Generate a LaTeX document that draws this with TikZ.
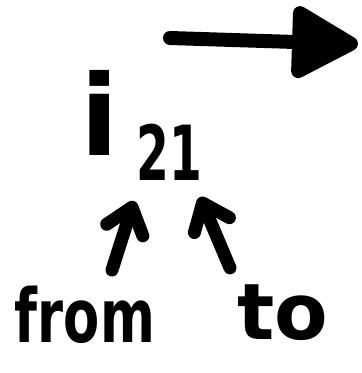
\documentclass[tikz,border=0pt]{standalone}
\usepackage{fontspec}
\usepackage{graphicx}
\setmainfont{DejaVu Sans}
\usetikzlibrary{arrows.meta}
\begin{document}
\begin{tikzpicture}[x=1pt,y=-1pt,
  ink/.style={line width=13pt,line cap=round,line join=round,black},
  barb/.style={ink,-{Straight Barb[length=24pt,width=38pt,round]}},
  bigtip/.style={line width=14pt,line cap=round,-{Triangle[length=74pt,width=78pt,round]}},
  word/.style={inner sep=0pt,font=\bfseries},
  label/.style={inner sep=0pt,font=\bfseries}]
\useasboundingbox (0,0) rectangle (362,373);
\coordinate (as) at (170,38);
\coordinate (ae) at (358,44);
\draw[bigtip] (as) -- (ae);
\node[label,anchor=base west] (i21) at (80,155)
  {\fontsize{112}{112}\selectfont i\hspace{18pt}\raisebox{-25pt}{\scalebox{0.62}[1]{\fontsize{76}{76}\selectfont 21}}};
\node[word] (from) at (85,315) {\scalebox{0.85}[1.2]{\fontsize{62}{62}\selectfont from}};
\node[word] (to) at (283,313) {\fontsize{78}{78}\selectfont to};
\coordinate (t1) at (134,201);
\coordinate (t2) at (200,197);
\draw[barb] ([xshift=27pt,yshift=16pt]from.north) -- (t1);
\draw[barb] ([xshift=-53pt,yshift=17pt]to.north) -- (t2);
\end{tikzpicture}
\end{document}
